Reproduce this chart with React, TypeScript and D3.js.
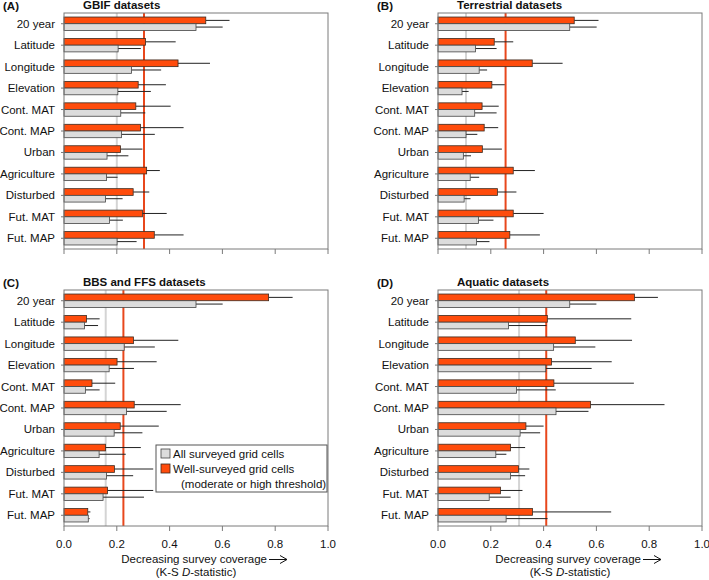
import React from "react";
import * as d3 from "d3";

const categories = ["20 year", "Latitude", "Longitude", "Elevation", "Cont. MAT", "Cont. MAP", "Urban", "Agriculture", "Disturbed", "Fut. MAT", "Fut. MAP"];
const xTicks = [0, 0.2, 0.4, 0.6, 0.8, 1.0];

// Panel A: GBIF
const gbifAll = [0.5, 0.205, 0.256, 0.204, 0.215, 0.218, 0.163, 0.161, 0.157, 0.172, 0.201];
const gbifAllErr = [0.601, 0.291, 0.368, 0.329, 0.308, 0.344, 0.244, 0.203, 0.222, 0.223, 0.275];
const gbifWell = [0.537, 0.309, 0.432, 0.281, 0.272, 0.29, 0.214, 0.313, 0.262, 0.297, 0.342];
const gbifWellErr = [0.627, 0.423, 0.553, 0.386, 0.404, 0.453, 0.297, 0.363, 0.323, 0.389, 0.453];
const gbifRef = [0.2, 0.303];

// Panel B: Terrestrial
const terrAll = [0.499, 0.142, 0.156, 0.091, 0.139, 0.106, 0.096, 0.122, 0.099, 0.153, 0.146];
const terrAllErr = [0.601, 0.222, 0.186, 0.116, 0.222, 0.149, 0.125, 0.156, 0.123, 0.21, 0.195];
const terrWell = [0.516, 0.213, 0.357, 0.204, 0.167, 0.175, 0.168, 0.285, 0.225, 0.285, 0.272];
const terrWellErr = [0.608, 0.285, 0.472, 0.253, 0.23, 0.228, 0.242, 0.367, 0.297, 0.4, 0.386];
const terrRef = [0.106, 0.256];

// Panel C: BBS and FFS
const bbsAll = [0.5, 0.078, 0.228, 0.171, 0.081, 0.237, 0.19, 0.133, 0.161, 0.148, 0.092];
const bbsAllErr = [0.601, 0.129, 0.344, 0.265, 0.135, 0.389, 0.297, 0.234, 0.262, 0.303, 0.097];
const bbsWell = [0.775, 0.085, 0.263, 0.201, 0.106, 0.266, 0.213, 0.157, 0.191, 0.165, 0.09];
const bbsWellErr = [0.866, 0.135, 0.433, 0.351, 0.194, 0.442, 0.359, 0.291, 0.338, 0.338, 0.1];
const bbsRef = [0.158, 0.225];

// Panel D: Aquatic
const aquaAll = [0.499, 0.267, 0.438, 0.408, 0.297, 0.447, 0.311, 0.219, 0.275, 0.194, 0.258];
const aquaAllErr = [0.6, 0.411, 0.596, 0.582, 0.446, 0.57, 0.387, 0.259, 0.33, 0.275, 0.415];
const aquaWell = [0.744, 0.414, 0.52, 0.43, 0.439, 0.578, 0.333, 0.275, 0.305, 0.237, 0.358];
const aquaWellErr = [0.833, 0.732, 0.735, 0.658, 0.742, 0.858, 0.4, 0.33, 0.346, 0.32, 0.656];
const aquaRef = [0.307, 0.41];

const panelLetters = ["(A)", "(B)", "(C)", "(D)"];
const panelTitles = ["GBIF datasets", "Terrestrial datasets", "BBS and FFS datasets", "Aquatic datasets"];
const legendLabels = ["All surveyed grid cells", "Well-surveyed grid cells", "(moderate or high threshold)"];

const FONT = "'Liberation Sans', Arial, Helvetica, sans-serif";
const ORANGE = "#FF4C0C";
const GREY = "#DCDCDC";
const LINE_ORANGE = "#E8471C";
const LINE_GREY = "#D4D4D4";

const PW = 264;
const PH = 236;

type PanelProps = {
  x0: number; y0: number; letter: string; title: string;
  all: number[]; allErr: number[]; well: number[]; wellErr: number[]; refs: number[];
  showTickLabels: boolean;
};

function Panel(p: PanelProps) {
  const x = d3.scaleLinear().domain([0, 1]).range([0, PW]);
  const y = d3.scaleBand().domain(categories).range([0, PH]).padding(0);
  const bh = 6.7;
  return (
    <g transform={`translate(${p.x0},${p.y0})`} fontFamily={FONT}>
      <text x={-61} y={-3} fontSize={11.5} fontWeight="bold" fill="#111">{p.letter}</text>
      <text x={19} y={-4} fontSize={11.5} fontWeight="bold" fill="#111">{p.title}</text>
      <rect x={0} y={0} width={PW} height={PH} fill="#fff" stroke="none" />
      <line x1={x(p.refs[0])} x2={x(p.refs[0])} y1={0} y2={PH} stroke={LINE_GREY} strokeWidth={2} />
      <line x1={x(p.refs[1])} x2={x(p.refs[1])} y1={0} y2={PH} stroke={LINE_ORANGE} strokeWidth={2} />
      {categories.map((c, i) => {
        const cy = (y(c) as number) + y.bandwidth() / 2;
        return (
          <g key={c}>
            <line x1={x(p.well[i])} x2={x(p.wellErr[i])} y1={cy - bh / 2} y2={cy - bh / 2} stroke="#222" strokeWidth={1} />
            <line x1={x(p.all[i])} x2={x(p.allErr[i])} y1={cy + bh / 2} y2={cy + bh / 2} stroke="#222" strokeWidth={1} />
            <rect x={0} y={cy - bh} width={x(p.well[i])} height={bh} fill={ORANGE} stroke="#3a2a20" strokeWidth={0.8} />
            <rect x={0} y={cy} width={x(p.all[i])} height={bh} fill={GREY} stroke="#444" strokeWidth={0.8} />
            <line x1={-3} x2={0} y1={cy} y2={cy} stroke="#777" strokeWidth={1} />
            <text x={-9} y={cy + 4} fontSize={11.5} textAnchor="end" fill="#111">{c}</text>
          </g>
        );
      })}
      <rect x={0} y={0} width={PW} height={PH} fill="none" stroke="#7a7a7a" strokeWidth={1} />
      {xTicks.map((t) => (
        <g key={t}>
          <line x1={x(t)} x2={x(t)} y1={PH} y2={PH + 5} stroke="#7a7a7a" strokeWidth={1} />
          {p.showTickLabels && (
            <text x={x(t)} y={PH + 22} fontSize={11.5} textAnchor="middle" fill="#111">{d3.format(".1f")(t)}</text>
          )}
        </g>
      ))}
      {p.showTickLabels && (
        <g>
          <text x={203} y={PH + 37} fontSize={11.5} textAnchor="end" fill="#111">Decreasing survey coverage</text>
          <path d={`M205,${PH + 33.5} H223 M216,${PH + 29.5} L223,${PH + 33.5} L216,${PH + 37.5}`} fill="none" stroke="#111" strokeWidth={1} />
          <text x={x(0.5)} y={PH + 50} fontSize={11.5} textAnchor="middle" fill="#111">
            (K-S <tspan fontStyle="italic">D</tspan>-statistic)
          </text>
        </g>
      )}
    </g>
  );
}

export default function App() {
  return (
    <svg width={709} height={580} style={{ position: "absolute", left: 0, top: 0, background: "#fff" }}>
      <rect width={709} height={580} fill="#fff" />
      <Panel x0={64} y0={13} letter={panelLetters[0]} title={panelTitles[0]} all={gbifAll} allErr={gbifAllErr} well={gbifWell} wellErr={gbifWellErr} refs={gbifRef} showTickLabels={false} />
      <Panel x0={438} y0={13} letter={panelLetters[1]} title={panelTitles[1]} all={terrAll} allErr={terrAllErr} well={terrWell} wellErr={terrWellErr} refs={terrRef} showTickLabels={false} />
      <Panel x0={64} y0={290} letter={panelLetters[2]} title={panelTitles[2]} all={bbsAll} allErr={bbsAllErr} well={bbsWell} wellErr={bbsWellErr} refs={bbsRef} showTickLabels={true} />
      <Panel x0={438} y0={290} letter={panelLetters[3]} title={panelTitles[3]} all={aquaAll} allErr={aquaAllErr} well={aquaWell} wellErr={aquaWellErr} refs={aquaRef} showTickLabels={true} />
      <g fontFamily={FONT} fontSize={11.5} fill="#111">
        <rect x={156} y={445} width={171} height={47} fill="#fff" stroke="#555" strokeWidth={1} />
        <rect x={161} y={449} width={9} height={9} fill={GREY} stroke="#444" strokeWidth={0.8} />
        <text x={173} y={458}>{legendLabels[0]}</text>
        <rect x={161} y={464} width={9} height={9} fill={ORANGE} stroke="#3a2a20" strokeWidth={0.8} />
        <text x={173} y={473}>{legendLabels[1]}</text>
        <text x={181} y={488}>{legendLabels[2]}</text>
      </g>
    </svg>
  );
}
